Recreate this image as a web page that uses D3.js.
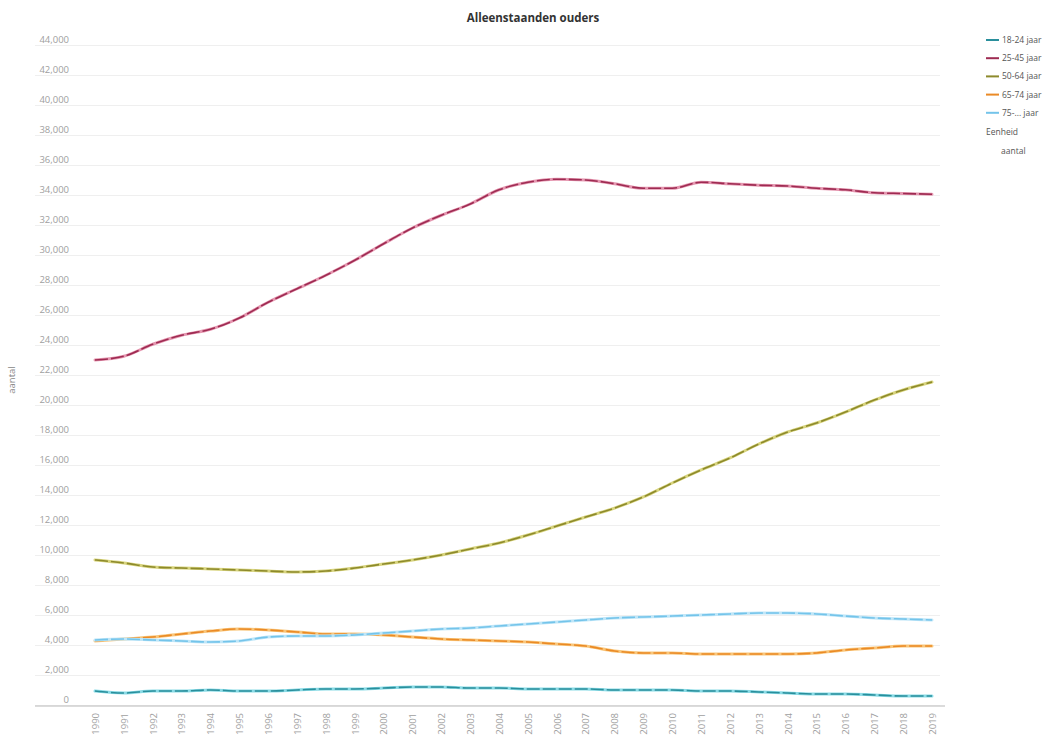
<!DOCTYPE html>
<html>
<head>
<meta charset="utf-8">
<script src="https://cdn.jsdelivr.net/npm/d3@7"></script>
<style>
  html, body { margin: 0; padding: 0; background: #ffffff; }
  svg { display: block; font-family: "Open Sans", "DejaVu Sans", sans-serif; }
</style>
</head>
<body>
<svg id="chart" width="1056" height="747"></svg>
<script>
// ---- data ----
const years = d3.range(1990, 2020);
const seriesNames = ["18-24 jaar", "25-45 jaar", "50-64 jaar", "65-74 jaar", "75-... jaar"];
const age18_24 = [930, 800, 930, 930, 1000, 930, 930, 1000, 1070, 1070, 1130, 1200, 1200, 1130, 1130, 1070, 1070, 1070, 1000, 1000, 1000, 930, 930, 870, 800, 730, 730, 670, 600, 600];
const age25_45 = [23000, 23250, 24050, 24650, 25050, 25800, 26850, 27750, 28650, 29650, 30750, 31800, 32650, 33400, 34350, 34850, 35050, 35000, 34750, 34450, 34450, 34850, 34750, 34650, 34600, 34450, 34350, 34150, 34100, 34050];
const age50_64 = [9670, 9470, 9200, 9130, 9070, 9000, 8930, 8870, 8930, 9130, 9400, 9670, 10000, 10400, 10800, 11330, 11930, 12530, 13130, 13870, 14800, 15670, 16470, 17400, 18200, 18800, 19530, 20330, 21000, 21530];
const age65_74 = [4270, 4400, 4530, 4730, 4930, 5070, 5000, 4870, 4730, 4730, 4670, 4530, 4400, 4330, 4270, 4200, 4070, 3930, 3600, 3470, 3470, 3400, 3400, 3400, 3400, 3470, 3670, 3800, 3930, 3930];
const age75plus = [4330, 4400, 4330, 4270, 4200, 4270, 4530, 4600, 4600, 4670, 4800, 4930, 5070, 5130, 5270, 5400, 5530, 5670, 5800, 5870, 5930, 6000, 6070, 6130, 6130, 6070, 5930, 5800, 5730, 5670];
const yTicks = d3.range(0, 44001, 2000);
const title = "Alleenstaanden ouders";
const yTitle = "aantal";
const legendUnitTitle = "Eenheid";
const legendUnit = "aantal";

const seriesValues = [age18_24, age25_45, age50_64, age65_74, age75plus];
const darkColors = ["#2a8f9c", "#9e2b52", "#8d8a2c", "#ea8a26", "#74c4ea"];
const lightColors = ["#8adbe6", "#e597b0", "#d8d47e", "#f9c67a", "#bfe6f8"];

// ---- layout ----
const svg = d3.select("#chart");
const x = d3.scalePoint().domain(years).range([95, 932]);
const y = d3.scaleLinear().domain([0, 44000]).range([705, 45]);

// title
svg.append("text")
  .attr("x", 533).attr("y", 22)
  .attr("text-anchor", "middle")
  .attr("font-size", 11.5).attr("font-weight", "bold")
  .attr("fill", "#333")
  .text(title);

// gridlines + y labels
const yAxis = d3.axisLeft(y).tickValues(yTicks).tickSize(-905).tickFormat(d3.format(","));
const gy = svg.append("g").attr("transform", "translate(35,0)").call(yAxis);
gy.select(".domain").remove();
gy.selectAll(".tick line").attr("stroke", "#efefef").attr("stroke-width", 1);
gy.selectAll(".tick text")
  .attr("x", 34).attr("dy", "-0.3em")
  .attr("text-anchor", "end")
  .attr("font-size", 9.5)
  .attr("fill", "#a0a0a0")
  .attr("font-family", "'Open Sans', sans-serif");

// baseline
svg.append("line")
  .attr("x1", 35).attr("x2", 945)
  .attr("y1", y(0) + 1).attr("y2", y(0) + 1)
  .attr("stroke", "#cfcfcf").attr("stroke-width", 1.5);

// x axis labels
const xAxis = d3.axisBottom(x).tickSize(0).tickFormat(d3.format("d"));
const gx = svg.append("g").attr("transform", `translate(0,${y(0) + 6})`).call(xAxis);
gx.select(".domain").remove();
gx.selectAll(".tick text")
  .attr("transform", "rotate(-90)")
  .attr("text-anchor", "end")
  .attr("x", -2).attr("y", 0).attr("dy", "0.35em")
  .attr("font-size", 9.5)
  .attr("fill", "#a0a0a0")
  .attr("font-family", "'Open Sans', sans-serif");

// y title
svg.append("text")
  .attr("transform", "translate(15,380) rotate(-90)")
  .attr("text-anchor", "middle")
  .attr("font-size", 9.5).attr("fill", "#888")
  .text(yTitle);

// lines
const line = d3.line()
  .x((d, i) => x(years[i]))
  .y(d => y(d))
  .curve(d3.curveMonotoneX);

const gLines = svg.append("g");
seriesValues.forEach((vals, i) => {
  gLines.append("path")
    .attr("d", line(vals))
    .attr("fill", "none")
    .attr("stroke", lightColors[i])
    .attr("stroke-width", 3)
    .attr("stroke-linecap", "round");
  gLines.append("path")
    .attr("d", line(vals))
    .attr("fill", "none")
    .attr("stroke", darkColors[i])
    .attr("stroke-width", 1.6)
    .attr("stroke-dasharray", "13,3");
});

// legend
const legend = svg.append("g").attr("transform", "translate(986,0)");
seriesNames.forEach((name, i) => {
  const ly = 40 + i * 18.2;
  legend.append("line")
    .attr("x1", 0).attr("x2", 13).attr("y1", ly).attr("y2", ly)
    .attr("stroke", darkColors[i]).attr("stroke-width", 2);
  legend.append("text")
    .attr("x", 16).attr("y", ly).attr("dy", "0.35em")
    .attr("font-size", 8.5).attr("fill", "#555")
    .text(name);
});
legend.append("text")
  .attr("x", 0).attr("y", 132).attr("dy", "0.35em")
  .attr("font-size", 8.5).attr("fill", "#555")
  .text(legendUnitTitle);
legend.append("text")
  .attr("x", 15).attr("y", 151).attr("dy", "0.35em")
  .attr("font-size", 8.5).attr("fill", "#555")
  .text(legendUnit);
</script>
</body>
</html>
